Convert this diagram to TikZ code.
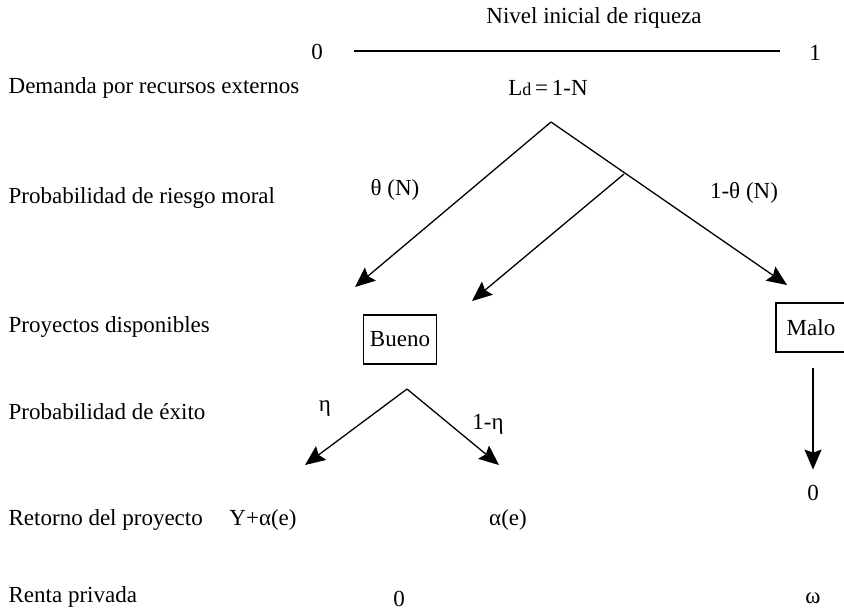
\documentclass[tikz,border=0pt]{standalone}
\usepackage{fontspec}
\setmainfont{Liberation Serif}
\usetikzlibrary{arrows.meta}

\begin{document}
\begin{tikzpicture}[x=0.5pt,y=-0.5pt,>={Stealth[length=10pt,width=8.5pt,inset=1.5pt]},line width=0.65pt,
  every node/.style={font=\fontsize{11.5}{13}\selectfont,inner sep=0pt},
  rotulo/.style={anchor=west},
  caja/.style={draw,line width=0.75pt,minimum width=36.5pt,minimum height=24.5pt}]
  \useasboundingbox (0,0) rectangle (844,612);
  \node (nivel) at (594,18) {Nivel inicial de riqueza};
  \node (cero) at (317,52) {0};
  \node (uno) at (815,53) {1};
  \coordinate (ini) at (354,51);
  \coordinate (fin) at (780,51);
  \draw[line width=1.1pt] (ini) -- (fin);
  \node[rotulo] (demanda) at (8,88) {Demanda por recursos externos};
  \node[rotulo] (riesgo) at (8,198) {Probabilidad de riesgo moral};
  \node[rotulo] (proyectos) at (8,327) {Proyectos disponibles};
  \node[rotulo] (exito) at (8,412) {Probabilidad de éxito};
  \node[rotulo] (retorno) at (8,520) {Retorno del proyecto};
  \node[rotulo] (renta) at (8,597) {Renta privada};
  \node (ld) at (548,88) {L{\fontsize{9}{10}\selectfont d}\,=\,1-N};
  \coordinate (cima) at (551,122);
  \coordinate (rama) at (624,174);
  \coordinate (pbueno) at (355,287);
  \coordinate (pmedio) at (472,301);
  \coordinate (pmalo) at (787,285);
  \draw[->] (cima) -- (pbueno);
  \draw[->] (cima) -- (pmalo);
  \draw[->] (rama) -- (pmedio);
  \node (theta) at (395,190) {θ (N)};
  \node (nthe) at (744,193) {1-θ (N)};
  \node[caja] (bueno) at (400,339.5) {Bueno};
  \node[caja,minimum width=35pt] (malo) at (811,327.5) {Malo};
  \coordinate (cimab) at (407,389);
  \coordinate (pexito) at (305,465);
  \coordinate (pfracaso) at (499,465);
  \draw[->] (cimab) -- (pexito);
  \draw[->] (cimab) -- (pfracaso);
  \node (eta) at (325,409) {η};
  \node (neta) at (488,424) {1-η};
  \node (retbueno) at (263,520) {Y+α(e)};
  \node (retfrac) at (508,520) {α(e)};
  \node (retmalo) at (813,493) {0};
  \coordinate (smalo) at (813,368);
  \draw[->] (smalo) -- ([yshift=7.5pt]retmalo.north);
  \node (rentab) at (399,599) {0};
  \node (rentam) at (813,598) {ω};
\end{tikzpicture}
\end{document}
